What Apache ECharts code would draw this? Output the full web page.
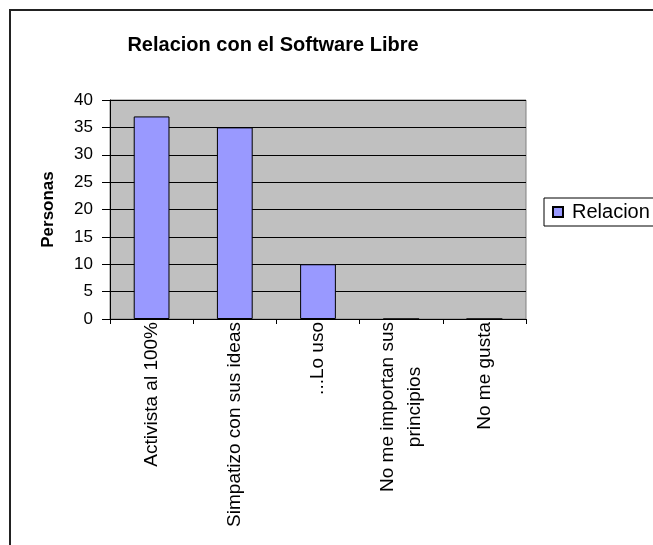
<!DOCTYPE html>
<html>
<head>
<meta charset="utf-8">
<script src="https://cdn.jsdelivr.net/npm/echarts@6/dist/echarts.min.js"></script>
<style>
  html, body { margin: 0; padding: 0; background: #fff; }
  #chart { width: 653px; height: 545px; }
</style>
</head>
<body>
<div id="chart"></div>
<script>
// datos
const categorias = ['Activista al 100%', 'Simpatizo con sus ideas', '...Lo uso', 'No me importan sus\nprincipios', 'No me gusta']
const relacion = [37, 35, 10, 0, 0]
const yTicks = { min: 0, max: 40, step: 5 }

const font = '"Liberation Sans", Arial, sans-serif'

const chart = echarts.init(document.getElementById('chart'))
chart.setOption({
  animation: false,
  backgroundColor: '#fff',
  title: {
    text: 'Relacion con el Software Libre',
    left: 268,
    top: 30,
    textAlign: 'center',
    textStyle: { fontFamily: font, fontSize: 20, fontWeight: 'bold', color: '#000' }
  },
  legend: {
    left: 544,
    top: 198,
    orient: 'vertical',
    padding: [4, 20, 4, 8],
    borderColor: '#000',
    borderWidth: 1,
    borderRadius: 0,
    itemWidth: 10,
    itemHeight: 10,
    itemGap: 0,
    icon: 'rect',
    textStyle: { fontFamily: font, fontSize: 20, color: '#000', padding: [0, 0, 0, 4] },
    data: ['Relacion']
  },
  grid: {
    left: 110,
    top: 100,
    width: 416,
    height: 219,
    z: -1,
    show: true,
    backgroundColor: '#C0C0C0',
    borderColor: '#808080',
    borderWidth: 1
  },
  xAxis: {
    type: 'category',
    data: categorias,
    z: 5,
    axisLine: { lineStyle: { color: '#000', width: 1 } },
    axisTick: { show: true, length: 5, lineStyle: { color: '#000' } },
    axisLabel: {
      interval: 0,
      rotate: 90,
      margin: 3,
      color: '#000',
      fontFamily: font,
      fontSize: 19,
      formatter: v => v.split('\n').map(s => '{c|' + s + '}').join('\n'),
      rich: { c: { align: 'center', fontFamily: font, fontSize: 19, color: '#000', lineHeight: 27 } }
    }
  },
  yAxis: {
    type: 'value',
    min: yTicks.min,
    max: yTicks.max,
    interval: yTicks.step,
    name: 'Personas',
    nameLocation: 'middle',
    nameRotate: 90,
    nameGap: 53,
    nameTextStyle: { fontFamily: font, fontSize: 17, fontWeight: 'bold', color: '#000' },
    axisLine: { show: true, lineStyle: { color: '#000', width: 1 } },
    axisTick: { show: true, length: 8, lineStyle: { color: '#000' } },
    axisLabel: { margin: 17, color: '#000', fontFamily: font, fontSize: 17 },
    splitLine: { show: true, lineStyle: { color: '#000', width: 1 } }
  },
  series: [
    {
      name: 'Relacion',
      type: 'bar',
      data: relacion,
      barWidth: '43%',
      itemStyle: { color: '#9999FF', borderColor: '#000', borderWidth: 1 }
    }
  ],
  graphic: [
    {
      type: 'rect',
      shape: { x: 10, y: 10, width: 700, height: 600 },
      style: { fill: 'none', stroke: '#222', lineWidth: 2 },
      z: 100
    }
  ]
})
</script>
</body>
</html>
